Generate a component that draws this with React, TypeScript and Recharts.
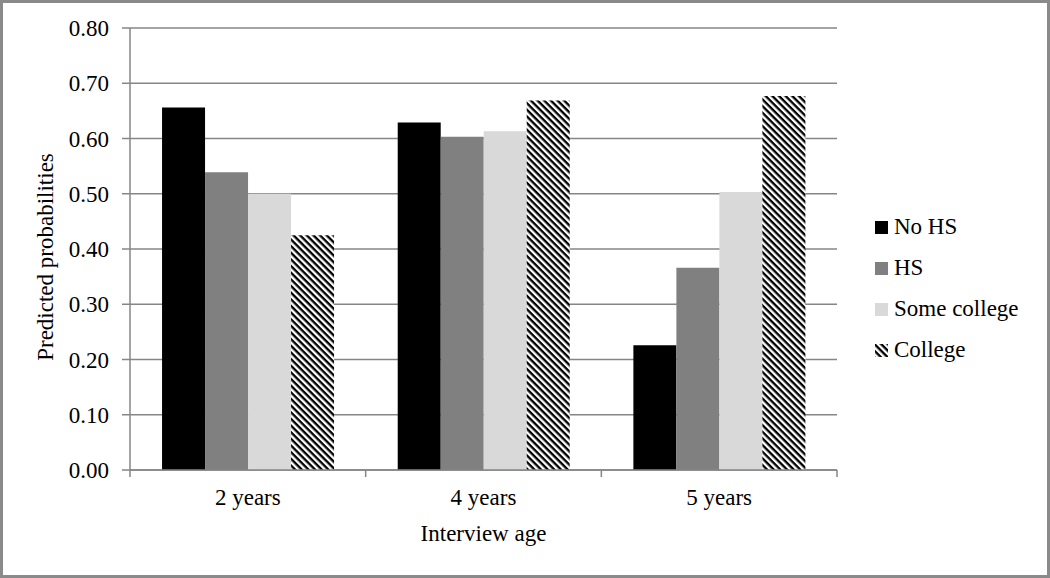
import React from 'react';
import { BarChart, Bar, XAxis, YAxis, CartesianGrid, Legend } from 'recharts';

const ages = ['2 years', '4 years', '5 years'];
const noHS = [0.656, 0.629, 0.226];
const hs = [0.539, 0.603, 0.366];
const someCollege = [0.5, 0.613, 0.503];
const college = [0.425, 0.669, 0.677];
const yTicks = [0, 0.1, 0.2, 0.3, 0.4, 0.5, 0.6, 0.7, 0.8];

const seriesNames = ['No HS', 'HS', 'Some college', 'College'];
const seriesKeys = ['noHS', 'hs', 'someCollege', 'college'];
const seriesFills = ['#000000', '#808080', '#d9d9d9', 'url(#hatchBars)'];
const legendFills = ['#000000', '#808080', '#d9d9d9', 'url(#hatchLegend)'];

const data = ages.map((age, i) => ({
  age,
  noHS: noHS[i],
  hs: hs[i],
  someCollege: someCollege[i],
  college: college[i],
}));

const FONT = '"Liberation Serif", "Times New Roman", serif';
const AXIS = '#868686';
const TICK_MARGIN = 35;

const XTick = (props: any) => {
  const { x, y, payload, index, visibleTicksCount, width } = props;
  const count = visibleTicksCount ?? ages.length;
  const half = payload && typeof payload.offset === 'number' && payload.offset > 0
    ? payload.offset
    : (width ?? 0) / (count * 2);
  const axisY = y - TICK_MARGIN;
  return (
    <g>
      <line x1={x - half} x2={x - half} y1={axisY} y2={axisY + 7} stroke={AXIS} strokeWidth={1.5} />
      {index === count - 1 && (
        <line x1={x + half} x2={x + half} y1={axisY} y2={axisY + 7} stroke={AXIS} strokeWidth={1.5} />
      )}
      <text x={x} y={y} textAnchor="middle" fill="#000" fontSize={23} fontFamily={FONT}>
        {payload.value}
      </text>
    </g>
  );
};

const HatchPattern = ({ id }: { id: string }) => (
  <pattern id={id} patternUnits="userSpaceOnUse" width={4.7} height={4.7} patternTransform="rotate(45)">
    <rect x={0} y={0} width={4.7} height={4.7} fill="#ffffff" />
    <rect x={0} y={0} width={4.7} height={2.35} fill="#000000" />
  </pattern>
);

const LegendContent = () => (
  <svg width={180} height={170} style={{ display: 'block' }}>
    <defs>
      <HatchPattern id="hatchLegend" />
    </defs>
    {seriesNames.map((name, i) => (
      <g key={name}>
        <rect x={5} y={16 + 41 * i} width={13} height={13} fill={legendFills[i]} />
        <text x={24} y={29 + 41 * i} fontSize={23} fontFamily={FONT} fill="#000">
          {name}
        </text>
      </g>
    ))}
  </svg>
);

export default function App() {
  return (
    <div style={{ position: 'absolute', left: 0, top: 0, width: 1050, height: 578, background: '#fff' }}>
      <BarChart
        width={1050}
        height={578}
        data={data}
        margin={{ top: 28, right: 213, bottom: 28, left: 0 }}
        barCategoryGap="13.6%"
        barGap={0}
      >
        <defs>
          <HatchPattern id="hatchBars" />
        </defs>
        <CartesianGrid vertical={false} stroke={AXIS} strokeWidth={1.5} />
        <XAxis
          dataKey="age"
          height={80}
          tickSize={0}
          tickMargin={TICK_MARGIN}
          tickLine={false}
          axisLine={{ stroke: AXIS, strokeWidth: 1.5 }}
          tick={<XTick />}
          interval={0}
          label={{
            content: (p: any) => {
              const vb = p.viewBox || {};
              return (
                <text x={vb.x + vb.width / 2} y={vb.y + 71} textAnchor="middle" fontSize={23} fontFamily={FONT} fill="#000">
                  Interview age
                </text>
              );
            },
          }}
        />
        <YAxis
          width={130}
          domain={[0, 0.8]}
          ticks={yTicks}
          interval={0}
          tickFormatter={(v: number) => v.toFixed(2)}
          tickSize={8}
          tickMargin={13}
          tickLine={{ stroke: AXIS, strokeWidth: 1.5 }}
          axisLine={{ stroke: AXIS, strokeWidth: 1.5 }}
          tick={{ fill: '#000', fontSize: 23, fontFamily: FONT }}
          label={{
            content: (p: any) => {
              const vb = p.viewBox || {};
              const cx = 53;
              const cy = vb.y + vb.height / 2 + 8;
              return (
                <text x={cx} y={cy} transform={`rotate(-90 ${cx} ${cy})`} textAnchor="middle" fontSize={23} fontFamily={FONT} fill="#000">
                  Predicted probabilities
                </text>
              );
            },
          }}
        />
        {seriesKeys.map((k, i) => (
          <Bar key={k} dataKey={k} name={seriesNames[i]} fill={seriesFills[i]} isAnimationActive={false} />
        ))}
        <Legend
          layout="horizontal"
          align="center"
          verticalAlign="middle"
          content={<LegendContent />}
          wrapperStyle={{ left: 870, top: 205, width: 180, height: 170 }}
        />
      </BarChart>
      <div
        style={{
          position: 'absolute',
          left: 0,
          top: 0,
          width: 1050,
          height: 578,
          boxSizing: 'border-box',
          border: '3px solid #8a8a8a',
          pointerEvents: 'none',
        }}
      />
    </div>
  );
}
